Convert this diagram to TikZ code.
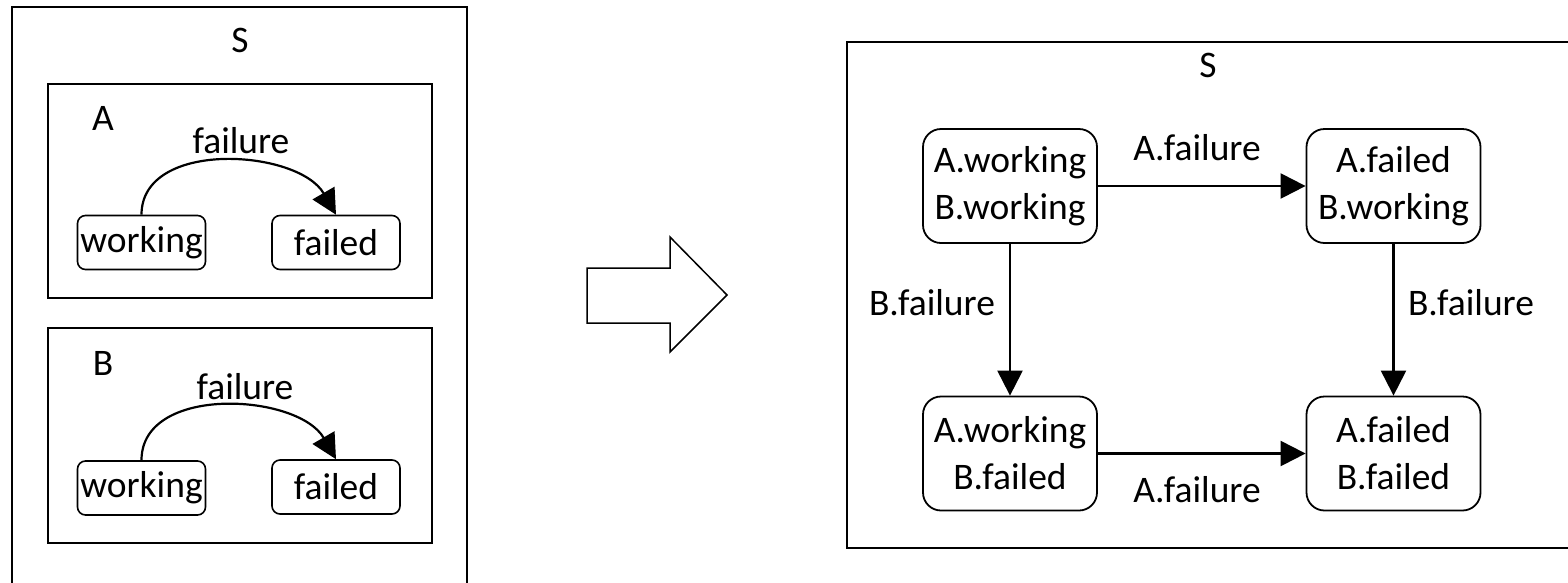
\documentclass[tikz,border=0pt]{standalone}
\usepackage{fontspec}
\setmainfont{Carlito}
\usetikzlibrary{arrows.meta}
\begin{document}
\begin{tikzpicture}[x=1pt,y=-1pt,
  every node/.style={font=\fontsize{37.5}{47}\selectfont, inner sep=0pt},
  frame/.style={draw, line width=1.8pt},
  smallstate/.style={draw, line width=1.6pt, rounded corners=8pt, minimum width=128pt, minimum height=54pt},
  bigstate/.style={draw, line width=1.8pt, rounded corners=18pt, minimum width=174pt, minimum height=114pt, align=center},
  lbl/.style={anchor=base},
  trans/.style={line width=2.2pt, -{Triangle[length=25pt,width=25pt]}}]
\clip (0,0) rectangle (1568,582);
\fill[white] (0,0) rectangle (1568,582);
% left composite
\draw[frame] (12,7) rectangle (467,620);
\node[lbl] (sl) at (240,52) {S};
\draw[frame] (48,84) rectangle (432,298);
\node[lbl] (la) at (103,130) {A};
\node[smallstate] (wa) at (141.5,242.5) {working};
\node[smallstate] (fa) at (336,242.5) {failed};
\draw[trans] (wa.north) to[out=90,in=120] (fa.north);
\node[lbl] (tla) at (241,153) {failure};
\draw[frame] (48,328) rectangle (432,543);
\node[lbl] (lb) at (103,375) {B};
\node[smallstate] (wb) at (141.5,488) {working};
\node[smallstate] (fb) at (336,487) {failed};
\draw[trans] (wb.north) to[out=90,in=120] (fb.north);
\node[lbl] (tlb) at (245,399) {failure};
% block arrow
\draw[line width=1.5pt] (587,268) -- (670,268) -- (670,237) -- (727,295) -- (670,352) -- (670,323) -- (587,323) -- cycle;
% right composite
\draw[frame] (847,42) rectangle (1620,548);
\node[lbl] (sr) at (1208,77) {S};
\node[bigstate] (ww) at (1010,186) {A.working\\B.working};
\node[bigstate] (fw) at (1393.5,186) {A.failed\\B.working};
\node[bigstate] (wf) at (1010,453.5) {A.working\\B.failed};
\node[bigstate] (ff) at (1393.5,453.5) {A.failed\\B.failed};
\draw[trans] (ww) -- (fw);
\draw[trans] (wf) -- (ff);
\draw[trans] (ww) -- (wf);
\draw[trans] (fw) -- (ff);
\node[lbl] (t1) at (1197,160) {A.failure};
\node[lbl] (t2) at (1197,502) {A.failure};
\node[lbl] (t3) at (932,315) {B.failure};
\node[lbl] (t4) at (1471,315) {B.failure};
\end{tikzpicture}
\end{document}
